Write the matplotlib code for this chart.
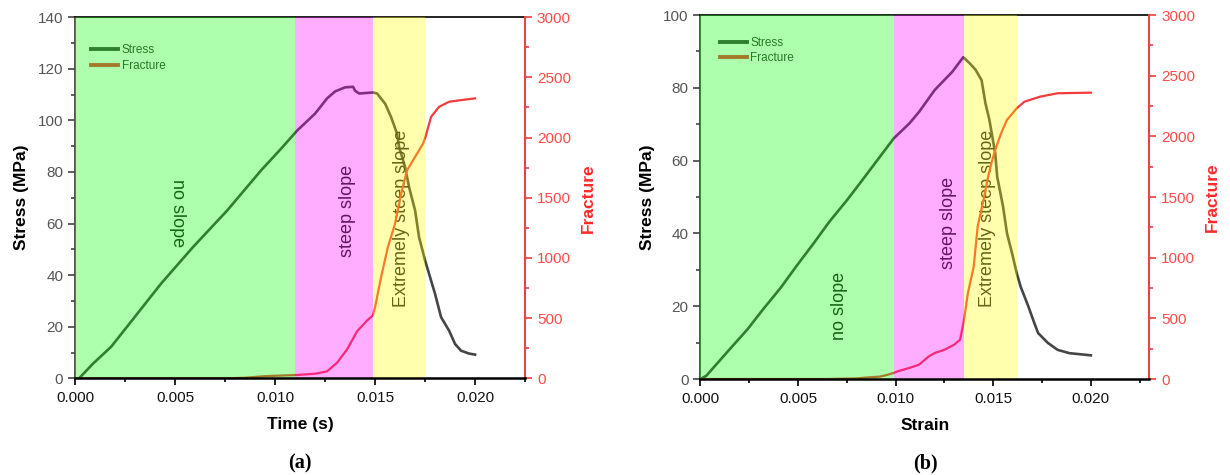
import matplotlib
matplotlib.use("Agg")
import matplotlib.pyplot as plt
from matplotlib.lines import Line2D
from matplotlib.ticker import MultipleLocator, FormatStrFormatter

plt.rcParams['font.family'] = ['Liberation Sans', 'DejaVu Sans']

# ---------------- panel (a): stress / fracture versus time ----------------
time_a_stress = [0.0, 0.0002, 0.0009, 0.0018, 0.0026, 0.0043, 0.0059, 0.0076, 0.0093,
                 0.0103, 0.0111, 0.0120, 0.0126, 0.0130, 0.0135, 0.0139, 0.0140, 0.0142,
                 0.0149, 0.0151, 0.0155, 0.0158, 0.0161, 0.0162, 0.0165, 0.0167, 0.0170,
                 0.0172, 0.0175, 0.0177, 0.0180, 0.0183, 0.0187, 0.0190, 0.0193, 0.0197,
                 0.0200]
stress_a = [0.0, 0.0, 5.7, 12.2, 20.0, 36.7, 50.9, 65.0, 80.6,
            89.0, 96.0, 102.6, 108.5, 111.2, 112.8, 113.0, 111.5, 110.4,
            110.8, 110.4, 106.5, 101.3, 94.8, 89.7, 81.9, 74.1, 65.1,
            54.7, 45.7, 40.5, 32.7, 23.7, 18.5, 13.3, 10.7, 9.6,
            9.2]
time_a_frac = [0.0, 0.0075, 0.0085, 0.0095, 0.0111, 0.0120, 0.0126, 0.0131, 0.0136,
               0.0141, 0.0146, 0.01488, 0.0150, 0.0153, 0.01564, 0.0160, 0.0163, 0.0166,
               0.0170, 0.0174, 0.01752, 0.0178, 0.0182, 0.0187, 0.0193, 0.0200]
fracture_a = [0, 0, 5, 18, 28, 38, 58, 130, 240,
              390, 480, 521, 591, 840, 1090, 1284, 1534, 1728,
              1839, 1950, 2005, 2172, 2255, 2297, 2311, 2325]
zones_a = [0.0, 0.0110, 0.0149, 0.0175]

# ---------------- panel (b): stress / fracture versus strain ----------------
strain_b_stress = [0.0, 0.0003, 0.0015, 0.0024, 0.0032, 0.0041, 0.0049, 0.0058, 0.0066,
                   0.0075, 0.0082, 0.0099, 0.0107, 0.0112, 0.0120, 0.0129, 0.01346, 0.0138,
                   0.0141, 0.0144, 0.0146, 0.0148, 0.0151, 0.0152, 0.0155, 0.0157, 0.0160,
                   0.0162, 0.0164, 0.0168, 0.0171, 0.0173, 0.0178, 0.0183, 0.0189, 0.0200]
stress_b = [0.0, 0.9, 8.2, 13.6, 19.1, 25.0, 30.9, 37.3, 43.2,
            49.1, 54.0, 66.1, 70.2, 73.4, 79.4, 84.4, 88.4, 86.7,
            84.9, 82.1, 75.7, 71.2, 62.0, 55.6, 47.4, 40.1, 33.7,
            29.1, 25.4, 19.9, 15.4, 12.6, 9.9, 8.0, 7.1, 6.5]
strain_b_frac = [0.0, 0.0065, 0.0080, 0.0085, 0.0092, 0.00955, 0.0099, 0.0101, 0.0107,
                 0.0112, 0.0117, 0.0120, 0.0125, 0.0130, 0.0133, 0.01337, 0.0135, 0.0137,
                 0.0140, 0.0142, 0.0145, 0.0147, 0.0149, 0.0151, 0.0154, 0.0157, 0.0162,
                 0.0166, 0.0174, 0.0183, 0.0200]
fracture_b = [0, 0, 5, 12, 20, 33, 50, 63, 91,
              118, 187, 214, 241, 283, 324, 379, 488, 708,
              928, 1257, 1476, 1641, 1778, 1888, 2025, 2135, 2231,
              2286, 2327, 2355, 2360]
zones_b = [0.0, 0.0099, 0.0135, 0.0162]

zone_names = ['no slope', 'steep slope', 'Extremely steep slope']
series_names = ['Stress', 'Fracture']

STRESS_C = '#454545'
FRAC_C = '#f23c3c'
ZONE_C = ['#00ff00', '#ff00ff', '#ffff00']
RED_TXT = '#ff4a4a'

fig = plt.figure(figsize=(12.3, 4.75), dpi=100)


def panel(rect, xs, ys, xf, yf, zones, xmax, ymax, xlabel, caption, label_pos,
          label_rot, leg_anchor):
    ax = fig.add_axes(rect)
    ax2 = ax.twinx()

    ax.plot(xs, ys, color=STRESS_C, lw=1.9, zorder=2, solid_joinstyle='round')
    ax2.plot(xf, yf, color=FRAC_C, lw=1.6, zorder=1, solid_joinstyle='round')

    # translucent zone shading laid over both curves
    for lo, hi, c in zip(zones[:-1], zones[1:], ZONE_C):
        ax2.axvspan(lo, hi, color=c, alpha=0.32, lw=0, zorder=2)

    for name, (px, py), rot in zip(zone_names, label_pos, label_rot):
        ax.text(px, py, name, rotation=rot, fontsize=13, color='#1e1e1e',
                ha='center', va='center', zorder=3)

    handles = [Line2D([], [], color=STRESS_C, lw=2.8),
               Line2D([], [], color=FRAC_C, lw=2.8)]
    leg = ax.legend(handles, series_names, loc='upper left', bbox_to_anchor=leg_anchor,
                    frameon=False, fontsize=8.5, handlelength=2.3, handletextpad=0.3,
                    labelspacing=0.3, borderpad=0, borderaxespad=0)
    for t in leg.get_texts():
        t.set_color('#3a3a3a')
    leg.set_zorder(3)

    ax.set_xlim(0, xmax)
    ax.set_ylim(0, ymax)
    ax2.set_ylim(0, 3000)

    ax.xaxis.set_major_locator(MultipleLocator(0.005))
    ax.xaxis.set_minor_locator(MultipleLocator(0.0025))
    ax.xaxis.set_major_formatter(FormatStrFormatter('%.3f'))
    ax.yaxis.set_major_locator(MultipleLocator(20))
    ax.yaxis.set_minor_locator(MultipleLocator(10))
    ax2.yaxis.set_major_locator(MultipleLocator(500))
    ax2.yaxis.set_minor_locator(MultipleLocator(250))

    ax.tick_params(axis='x', which='both', direction='out', colors='#111111',
                   labelsize=11, width=1.3)
    ax.tick_params(axis='x', which='major', length=5, pad=4)
    ax.tick_params(axis='x', which='minor', length=3)
    ax.tick_params(axis='y', which='both', direction='out', color='#444444',
                   labelcolor='#555555', labelsize=11, width=1.2)
    ax.tick_params(axis='y', which='major', length=5)
    ax.tick_params(axis='y', which='minor', length=3)
    ax2.tick_params(axis='y', which='both', direction='out', color=FRAC_C,
                    labelcolor=RED_TXT, labelsize=11, width=1.2)
    ax2.tick_params(axis='y', which='major', length=5)
    ax2.tick_params(axis='y', which='minor', length=3)

    for s in ax.spines.values():
        s.set_visible(False)
    ax.spines['left'].set_visible(True)
    ax.spines['left'].set_color('#444444')
    ax.spines['left'].set_linewidth(1.3)
    ax.spines['top'].set_visible(True)
    ax.spines['top'].set_color('#111111')
    ax.spines['top'].set_linewidth(1.3)
    ax2.spines['left'].set_visible(False)
    ax2.spines['top'].set_visible(False)
    ax2.spines['bottom'].set_color('#000000')
    ax2.spines['bottom'].set_linewidth(1.8)
    ax2.spines['right'].set_color(FRAC_C)
    ax2.spines['right'].set_linewidth(1.4)

    ax.set_xlabel(xlabel, fontsize=12.5, fontweight='bold', labelpad=9)
    ax.set_ylabel('Stress (MPa)', fontsize=12.5, fontweight='bold', labelpad=6)
    ax2.set_ylabel('Fracture', fontsize=12.5, fontweight='bold', color='#ff2a2a',
                   labelpad=7)

    x0, y0, w, h = rect
    fig.text(x0 + w / 2, 0.004, caption, ha='center', va='bottom',
             family=['Liberation Serif', 'DejaVu Serif'], fontweight='bold',
             fontsize=14.5)
    return ax, ax2


panel([0.061, 0.2035, 0.3659, 0.7604], time_a_stress, stress_a, time_a_frac, fracture_a,
      zones_a, 0.0225, 140, 'Time (s)', '(a)',
      [(0.0051, 64), (0.0136, 65), (0.0163, 62)], [270, 90, 90], (0.036, 0.925))

panel([0.5695, 0.2021, 0.3650, 0.7663], strain_b_stress, stress_b, strain_b_frac, fracture_b,
      zones_b, 0.023, 100, 'Strain', '(b)',
      [(0.0071, 20), (0.0127, 43), (0.0147, 44)], [90, 90, 90], (0.043, 0.94))

fig.savefig('out.png', dpi=100)
